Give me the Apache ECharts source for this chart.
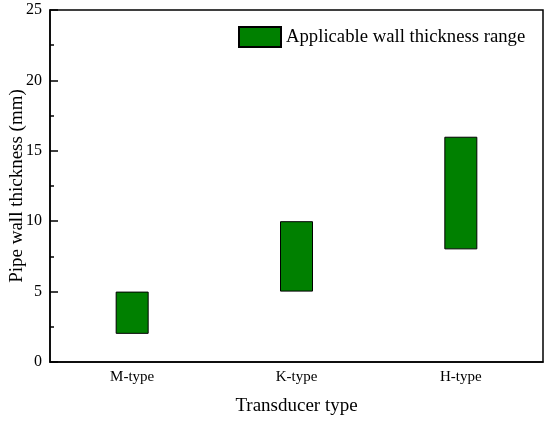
<!DOCTYPE html>
<html>
<head>
<meta charset="UTF-8">
<title></title>
<script src="https://cdn.jsdelivr.net/npm/echarts@6/dist/echarts.min.js"></script>
<style>
  html, body { margin: 0; padding: 0; background: #fff; }
  #content { width: 550px; height: 423px; }
</style>
</head>
<body>
<div id="content"></div>
<script>
    // 数据
    var categories = ['M-type', 'K-type', 'H-type'];
    var lowerValues = [2, 5, 8];
    var upperValues = [5, 10, 16];
    var yTicks = [0, 5, 10, 15, 20, 25];

    var rangeValues = upperValues.map(function (v, i) { return v - lowerValues[i]; });
    var serif = '"Liberation Serif", "Times New Roman", serif';

    var myChart = echarts.init(document.getElementById('content'));

    var option = {
        animation: false,
        textStyle: { fontFamily: serif },
        legend: {
            data: ['Applicable wall thickness range'],
            icon: 'rect',
            left: 233,
            top: 21,
            itemWidth: 42,
            itemHeight: 20,
            itemGap: 6,
            textStyle: { fontFamily: serif, fontSize: 18.7, color: '#000' }
        },
        grid: { left: 50, right: 7, top: 10, bottom: 61, outerBoundsMode: 'none', containLabel: false },
        xAxis: [
            {
                type: 'category',
                data: categories,
                name: 'Transducer type',
                nameLocation: 'middle',
                nameGap: 35,
                nameTextStyle: { fontFamily: serif, fontSize: 19, color: '#000' },
                axisLine: { lineStyle: { color: '#000', width: 1.5 } },
                axisTick: { alignWithLabel: true, inside: true, length: 6, lineStyle: { color: '#000', width: 1.5 } },
                axisLabel: { fontFamily: serif, fontSize: 15, color: '#000', margin: 8 }
            },
            {
                type: 'category',
                data: categories,
                position: 'bottom',
                axisLine: { show: false },
                axisTick: { inside: true, length: 3, lineStyle: { color: '#000', width: 1.5 } },
                axisLabel: { show: false }
            }
        ],
        yAxis: {
            type: 'value',
            min: yTicks[0],
            max: yTicks[yTicks.length - 1],
            interval: 5,
            name: 'Pipe wall thickness (mm)',
            nameLocation: 'middle',
            nameGap: 23,
            nameMoveOverlap: false,
            nameTextStyle: { fontFamily: serif, fontSize: 19, color: '#000' },
            axisLine: { show: true, lineStyle: { color: '#000', width: 1.5 } },
            axisTick: { show: true, inside: true, length: 8, lineStyle: { color: '#000', width: 1.5 } },
            minorTick: { show: true, splitNumber: 2, length: 4, lineStyle: { color: '#000', width: 1.5 } },
            axisLabel: { fontFamily: serif, fontSize: 16, color: '#000', margin: 8 },
            splitLine: { show: false }
        },
        series: [
            {
                name: 'base',
                type: 'bar',
                stack: 'range',
                barWidth: 33,
                itemStyle: { color: 'transparent' },
                silent: true,
                data: lowerValues
            },
            {
                name: 'Applicable wall thickness range',
                type: 'bar',
                stack: 'range',
                barWidth: 33,
                itemStyle: { color: '#008000', borderColor: '#000', borderWidth: 1 },
                data: rangeValues
            }
        ],
        graphic: [
            {
                type: 'rect',
                shape: { x: 50, y: 10, width: 493, height: 352 },
                style: { fill: 'none', stroke: '#000', lineWidth: 1.5 },
                silent: true
            }
        ]
    };

    myChart.setOption(option);
</script>
</body>
</html>
